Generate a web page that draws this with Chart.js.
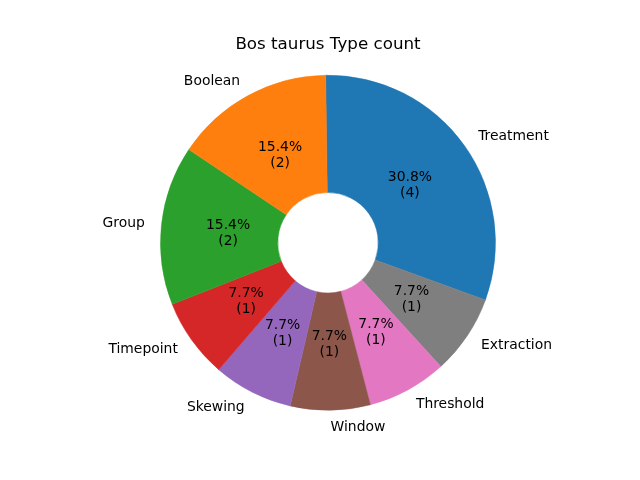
<!DOCTYPE html>
<html>
<head>
<meta charset="utf-8">
<script src="https://cdn.jsdelivr.net/npm/chart.js@4"></script>
<style>
html,body{margin:0;padding:0;background:#fff;}
#wrap{width:640px;height:480px;}
</style>
</head>
<body>
<div id="wrap"><canvas id="c" width="640" height="480"></canvas></div>
<script>
const titleText = "Bos taurus Type count";
const categories = ["Treatment", "Extraction", "Threshold", "Window", "Skewing", "Timepoint", "Group", "Boolean"];
const counts = [4, 1, 1, 1, 1, 1, 2, 2];
const colors = ["#1f77b4", "#7f7f7f", "#e377c2", "#8c564b", "#9467bd", "#d62728", "#2ca02c", "#ff7f0e"];

const FONT = "'DejaVu Sans', sans-serif";

const labelPlugin = {
  id: 'pieLabels',
  afterDatasetsDraw(chart) {
    const ctx = chart.ctx;
    const meta = chart.getDatasetMeta(0);
    const total = counts.reduce((a, b) => a + b, 0);
    ctx.save();
    ctx.fillStyle = '#000';
    ctx.textBaseline = 'alphabetic';
    meta.data.forEach((arc, i) => {
      const p = arc.getProps(['x', 'y', 'startAngle', 'endAngle', 'outerRadius'], true);
      const mid = (p.startAngle + p.endAngle) / 2;
      const cx = Math.cos(mid), cy = Math.sin(mid);
      ctx.font = "13.9px " + FONT;
      ctx.textAlign = cx > 0.001 ? 'left' : (cx < -0.001 ? 'right' : 'center');
      const lx = p.x + cx * p.outerRadius * 1.1;
      const ly = p.y + cy * p.outerRadius * 1.1;
      ctx.fillText(categories[i], lx, ly + 3.7);
      const px = p.x + cx * p.outerRadius * 0.6;
      const py = p.y + cy * p.outerRadius * 0.6;
      const pct = (counts[i] / total * 100).toFixed(1) + '%';
      ctx.textAlign = 'center';
      ctx.fillText(pct, px, py - 3.5);
      ctx.fillText('(' + counts[i] + ')', px, py + 12.5);
    });
    const ca = chart.chartArea;
    ctx.font = "16.7px " + FONT;
    ctx.textAlign = 'center';
    ctx.fillText(titleText, (ca.left + ca.right) / 2, 49);
    ctx.restore();
  }
};

new Chart(document.getElementById('c'), {
  type: 'doughnut',
  data: {
    labels: categories,
    datasets: [{
      data: counts,
      backgroundColor: colors,
      borderColor: colors,
      borderWidth: 0.5,
      radius: 167.5,
      cutout: 50
    }]
  },
  options: {
    responsive: false,
    animation: false,
    rotation: -0.8,
    layout: { padding: { left: 161, right: 145, top: 75.5, bottom: 70 } },
    plugins: {
      legend: { display: false },
      tooltip: { enabled: false },
      title: { display: false }
    }
  },
  plugins: [labelPlugin]
});
</script>
</body>
</html>
